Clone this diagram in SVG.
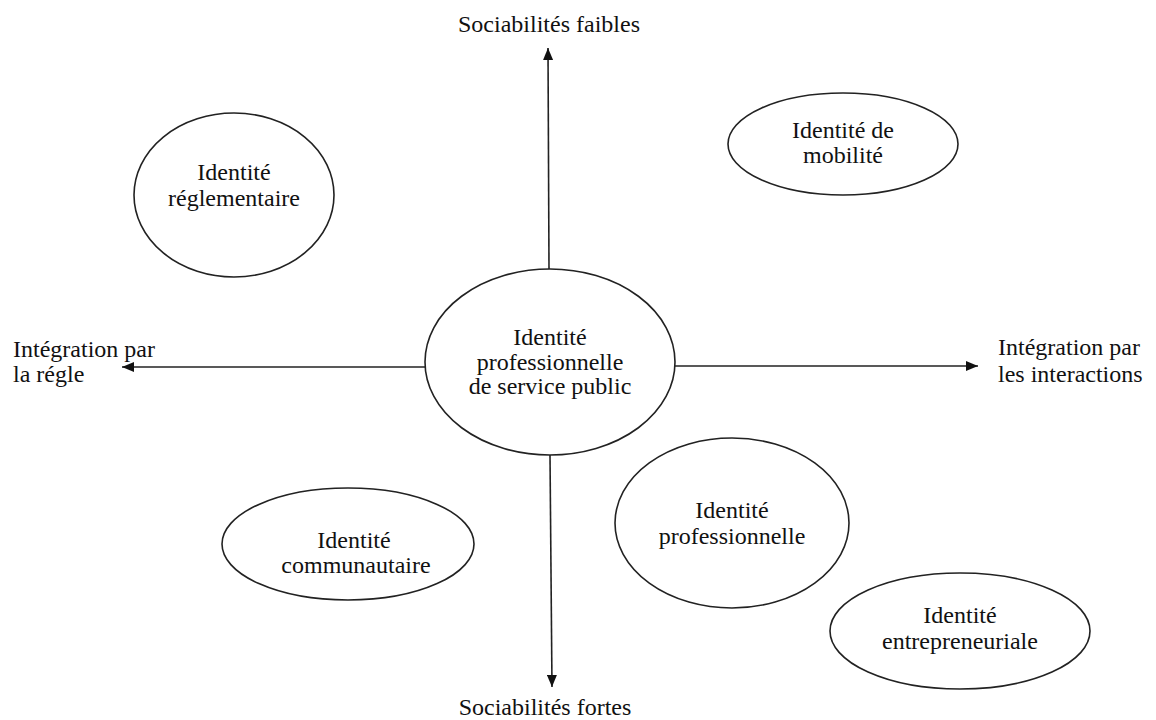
<svg xmlns="http://www.w3.org/2000/svg" width="1156" height="720" viewBox="0 0 1156 720">
<style>
text{font-family:"Liberation Serif","Times New Roman",serif;font-size:24px;fill:#111}
.c{text-anchor:middle}
.n{fill:#fff;stroke:#222;stroke-width:1.6}
.ax{stroke:#222;stroke-width:1.6;fill:none;marker-end:url(#ah)}
</style>
<defs>
<marker id="ah" viewBox="0 0 12 10" refX="12" refY="5" markerWidth="12" markerHeight="10" markerUnits="userSpaceOnUse" orient="auto">
<path d="M0,0 L12,5 L0,10 Z" fill="#111"/>
</marker>
</defs>
<g id="connectors">
<line class="ax" x1="549" y1="269" x2="548" y2="48"/>
<line class="ax" x1="550" y1="455" x2="552" y2="687"/>
<line class="ax" x1="425" y1="367" x2="122" y2="367"/>
<line class="ax" x1="675" y1="366" x2="978" y2="366"/>
</g>
<g id="axis-labels">
<text class="c" x="549" y="32">Sociabilités faibles</text>
<text class="c" x="545" y="715">Sociabilités fortes</text>
<text x="13" y="357">Intégration par</text>
<text x="13" y="382">la régle</text>
<text x="998" y="355">Intégration par</text>
<text x="998" y="382">les interactions</text>
</g>
<g id="node-center">
<ellipse class="n" cx="550" cy="362" rx="125" ry="93"/>
<text class="c" x="550" y="345">Identité</text>
<text class="c" x="550" y="370">professionnelle</text>
<text class="c" x="550" y="394">de service public</text>
</g>
<g id="node-reglementaire">
<ellipse class="n" cx="234" cy="195" rx="100" ry="82"/>
<text class="c" x="234" y="180">Identité</text>
<text class="c" x="234" y="206">réglementaire</text>
</g>
<g id="node-mobilite">
<ellipse class="n" cx="843" cy="144" rx="115" ry="51"/>
<text class="c" x="843" y="138">Identité de</text>
<text class="c" x="843" y="163">mobilité</text>
</g>
<g id="node-communautaire">
<ellipse class="n" cx="348" cy="544" rx="126" ry="56"/>
<text class="c" x="354" y="548">Identité</text>
<text class="c" x="356" y="573">communautaire</text>
</g>
<g id="node-professionnelle">
<ellipse class="n" cx="732" cy="523" rx="117" ry="85"/>
<text class="c" x="732" y="518">Identité</text>
<text class="c" x="732" y="544">professionnelle</text>
</g>
<g id="node-entrepreneuriale">
<ellipse class="n" cx="960" cy="631" rx="130" ry="58"/>
<text class="c" x="960" y="623">Identité</text>
<text class="c" x="960" y="649">entrepreneuriale</text>
</g>
</svg>
